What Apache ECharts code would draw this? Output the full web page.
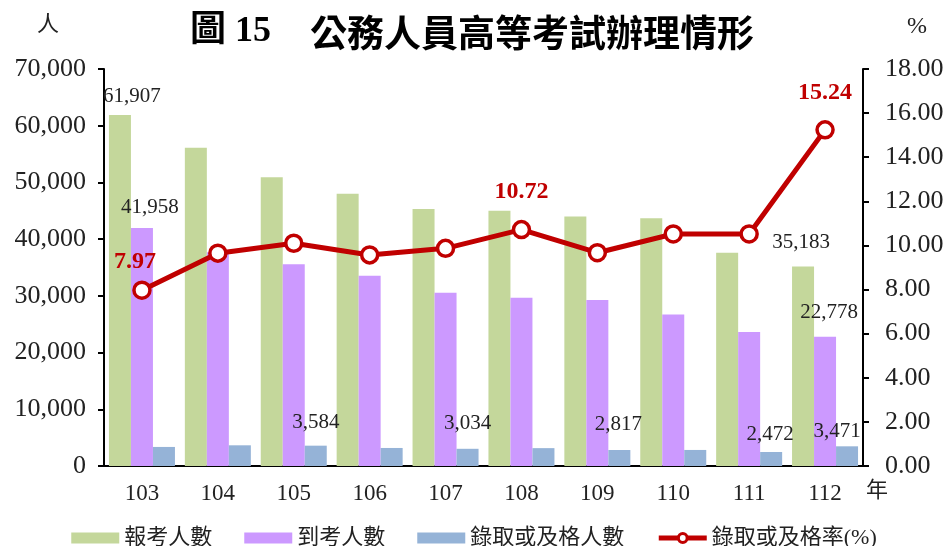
<!DOCTYPE html>
<html><head><meta charset="utf-8">
<script src="https://cdn.jsdelivr.net/npm/echarts@6/dist/echarts.min.js"></script>
<style>html,body{margin:0;padding:0;background:#fff}#c{width:948px;height:546px}</style>
</head><body><div id="c"></div>
<script>
const years = ['103','104','105','106','107','108','109','110','111','112'];
const applicants = [61907, 56100, 50900, 48000, 45300, 45000, 44000, 43700, 37600, 35183];
const examinees = [41958, 37700, 35560, 33550, 30550, 29670, 29260, 26730, 23610, 22778];
const passed = [3360, 3650, 3584, 3180, 3034, 3150, 2817, 2830, 2472, 3471];
const passRate = [7.97, 9.65, 10.10, 9.57, 9.87, 10.72, 9.67, 10.52, 10.52, 15.24];
const seriesNames = ['報考人數', '到考人數', '錄取或及格人數', '錄取或及格率(%)'];

const SERIF = "'Liberation Serif','Times New Roman','Noto Sans CJK TC',serif";
const fmt = v => String(Math.round(v)).replace(/\B(?=(\d{3})+(?!\d))/g, ',');

// label styling per shown point (index -> offset)
const greenLab = {0:[12,2], 9:[-2,-3]};
const purpleLab = {0:[8,0], 9:[4,-4]};
const blueLab = {2:[0,-3], 4:[0,-5], 6:[-1,-5], 8:[-1,3], 9:[-10,6]};
const redLab = {0:[-7,-2], 5:[0,-11], 9:[0,-10]};

function barData(vals, labs){
  return vals.map((v,i)=>{
    if(labs[i]) return {value:v, label:{show:true, position:'top', distance:10, offset:labs[i],
      formatter:p=>fmt(p.value), fontFamily:SERIF, fontSize:21, color:'#222'}};
    return v;
  });
}
function lineData(vals, labs){
  return vals.map((v,i)=>{
    if(labs[i]) return {value:v, label:{show:true, position:'top', distance:5, offset:labs[i],
      formatter:p=>p.value.toFixed(2), fontFamily:SERIF, fontSize:24, fontWeight:'bold', color:'#c00000'}};
    return v;
  });
}

const chart = echarts.init(document.getElementById('c'), null, {renderer:'canvas'});
chart.setOption({
  animation:false,
  backgroundColor:'#fff',
  grid:{left:104, right:85, top:69, bottom:80, containLabel:false},
  graphic:[
    {type:'text', left:190, top:14, style:{text:'圖 15', font:"bold 36px 'Liberation Serif','Noto Sans CJK TC'", fill:'#000'}},
    {type:'text', left:310, top:14, style:{text:'公務人員高等考試辦理情形', font:"bold 37px 'Noto Sans CJK TC'", fill:'#000'}},
    {type:'text', left:37, top:12, style:{text:'人', font:"22px 'Noto Sans CJK TC'", fill:'#222'}},
    {type:'text', left:907, top:15, style:{text:'%', font:"24px 'Liberation Serif'", fill:'#222'}},
    {type:'text', left:866, top:478, style:{text:'年', font:"22px 'Noto Sans CJK TC'", fill:'#222'}}
  ],
  legend:{
    top:522, left:'center', itemWidth:48, itemHeight:11, itemGap:32,
    textStyle:{fontFamily:SERIF, fontSize:22, color:'#222'},
    data:[
      {name:seriesNames[0], icon:'rect'},
      {name:seriesNames[1], icon:'rect'},
      {name:seriesNames[2], icon:'rect'},
      {name:seriesNames[3], lineStyle:{width:5, color:'#c00000'}, itemStyle:{color:'#fff', borderColor:'#c00000', borderWidth:3}}
    ]
  },
  xAxis:{
    type:'category', data:years,
    axisLine:{lineStyle:{color:'#000', width:2}},
    axisTick:{show:false},
    axisLabel:{fontFamily:SERIF, fontSize:23, color:'#222', margin:16}
  },
  yAxis:[
    {type:'value', min:0, max:70000, interval:10000,
     axisLine:{show:true, lineStyle:{color:'#000', width:2}},
     axisTick:{show:true, length:6, lineStyle:{color:'#000', width:2}},
     splitLine:{show:false},
     axisLabel:{fontFamily:SERIF, fontSize:26, color:'#222', margin:18, formatter:v=>fmt(v)}},
    {type:'value', min:0, max:18, interval:2, position:'right',
     axisLine:{show:true, lineStyle:{color:'#000', width:2}},
     axisTick:{show:true, length:6, lineStyle:{color:'#000', width:2}},
     splitLine:{show:false},
     axisLabel:{fontFamily:SERIF, fontSize:26, color:'#222', margin:22, formatter:v=>v.toFixed(2)}}
  ],
  series:[
    {name:seriesNames[0], type:'bar', barWidth:22, barGap:'0%', barCategoryGap:'14%',
     itemStyle:{color:'#c4d79b'}, data:barData(applicants, greenLab)},
    {name:seriesNames[1], type:'bar', barWidth:22, barGap:'0%',
     itemStyle:{color:'#cc99ff'}, data:barData(examinees, purpleLab)},
    {name:seriesNames[2], type:'bar', barWidth:22, barGap:'0%',
     itemStyle:{color:'#95b3d7'}, data:barData(passed, blueLab)},
    {name:seriesNames[3], type:'line', yAxisIndex:1, z:5,
     symbol:'circle', symbolSize:16,
     lineStyle:{color:'#c00000', width:5},
     itemStyle:{color:'#fff', borderColor:'#c00000', borderWidth:3.5},
     data:lineData(passRate, redLab)}
  ]
});
</script></body></html>
